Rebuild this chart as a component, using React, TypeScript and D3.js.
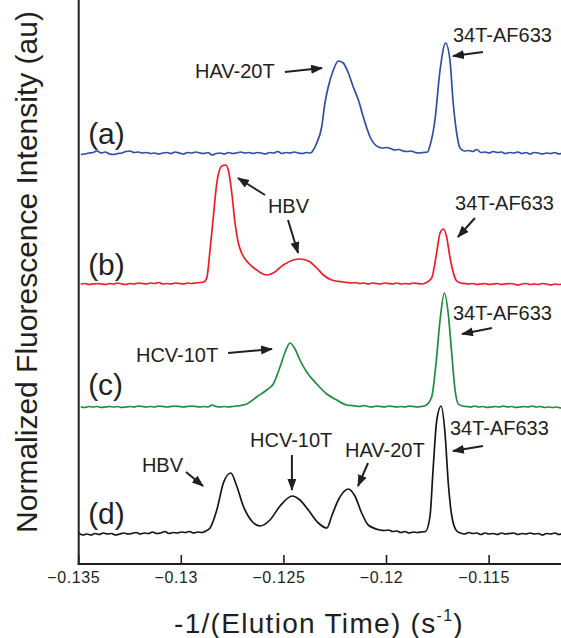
import React from "react";
import * as d3 from "d3";

// Elution traces: [-1/(elution time), normalized intensity above each trace's own baseline]
const traceA: [number, number][] = [
  [-0.1349, -0.015], [-0.1347, -0.01], [-0.1345, 0.0], [-0.1343, 0.005], [-0.1341, 0.02],
  [-0.1339, 0.0], [-0.1337, 0.01], [-0.1335, -0.01], [-0.1333, -0.015], [-0.1331, -0.005],
  [-0.1329, 0.0], [-0.1327, 0.015], [-0.1325, 0.02], [-0.1323, 0.005], [-0.1321, 0.01],
  [-0.1319, 0.0], [-0.1317, 0.005], [-0.1315, -0.005], [-0.1313, 0.0], [-0.1311, -0.01],
  [-0.1309, 0.0], [-0.1307, 0.005], [-0.1305, -0.005], [-0.1303, 0.01], [-0.1301, 0.0],
  [-0.1299, -0.01], [-0.1297, 0.005], [-0.1295, 0.0], [-0.1293, 0.01], [-0.1291, 0.0],
  [-0.1289, -0.005], [-0.1287, 0.005], [-0.1285, -0.02], [-0.1283, -0.005], [-0.1281, 0.0],
  [-0.1279, -0.01], [-0.1277, 0.005], [-0.1275, -0.005], [-0.1273, 0.0], [-0.1271, 0.01],
  [-0.1269, 0.0], [-0.1267, 0.005], [-0.1265, -0.005], [-0.1263, 0.005], [-0.1261, 0.0],
  [-0.1259, -0.01], [-0.1257, 0.005], [-0.1255, 0.0], [-0.1253, 0.015], [-0.1251, -0.005],
  [-0.1249, 0.005], [-0.1247, 0.0], [-0.1245, 0.01], [-0.1243, 0.0], [-0.1241, -0.005],
  [-0.1239, 0.005], [-0.1237, 0.0],
  [-0.1236, 0.02], [-0.1234, 0.1], [-0.12316, 0.26], [-0.123, 0.5], [-0.12284, 0.66],
  [-0.12259, 0.83], [-0.12235, 0.92], [-0.12211, 0.9], [-0.12186, 0.8], [-0.12162, 0.66],
  [-0.12137, 0.53], [-0.12113, 0.36], [-0.1208, 0.16], [-0.1204, 0.06],
  [-0.1202, 0.05], [-0.12, 0.055], [-0.1198, 0.045], [-0.1196, 0.03], [-0.1194, 0.035],
  [-0.1192, 0.02], [-0.119, 0.015], [-0.1188, 0.02], [-0.1186, 0.005], [-0.1184, 0.0],
  [-0.1182, 0.005], [-0.118, 0.01],
  [-0.1179, 0.06], [-0.11764, 0.33], [-0.11739, 0.83], [-0.11712, 1.1], [-0.11691, 0.93],
  [-0.11675, 0.5], [-0.11658, 0.2], [-0.11642, 0.05],
  [-0.1162, 0.02], [-0.116, 0.025], [-0.1158, 0.015], [-0.1156, 0.035], [-0.1154, 0.005],
  [-0.1152, 0.01], [-0.115, 0.0], [-0.1148, 0.015], [-0.1146, 0.005], [-0.1144, 0.01],
  [-0.1142, -0.005], [-0.114, 0.005], [-0.1138, 0.0], [-0.1136, 0.01], [-0.1134, -0.005],
  [-0.1132, 0.005], [-0.113, -0.01], [-0.1128, 0.005], [-0.1126, 0.0], [-0.1124, -0.01],
  [-0.1122, 0.0], [-0.112, -0.005], [-0.1118, 0.005], [-0.1116, -0.01], [-0.1114, 0.0],
  [-0.1112, -0.005],
];

const traceB: [number, number][] = [
  [-0.1349, 0.0], [-0.1347, 0.005], [-0.1345, -0.005], [-0.1343, 0.0], [-0.1341, 0.005],
  [-0.1339, 0.0], [-0.1337, -0.005], [-0.1335, 0.005], [-0.1333, 0.0], [-0.1331, 0.01],
  [-0.1329, 0.0], [-0.1327, -0.005], [-0.1325, 0.005], [-0.1323, 0.0], [-0.1321, 0.01],
  [-0.1319, 0.005], [-0.1317, 0.0], [-0.1315, 0.01], [-0.1313, 0.005], [-0.1311, 0.015],
  [-0.1309, 0.0], [-0.1307, 0.005], [-0.1305, 0.0], [-0.1303, 0.01], [-0.1301, 0.005],
  [-0.1299, 0.0], [-0.1297, 0.01], [-0.1295, 0.005], [-0.1293, 0.01], [-0.1291, 0.015],
  [-0.1289, 0.02],
  [-0.12876, 0.06], [-0.1286, 0.34], [-0.12844, 0.67], [-0.12827, 1.01], [-0.12803, 1.18],
  [-0.12784, 1.19], [-0.12771, 1.14], [-0.12754, 0.91], [-0.12738, 0.61], [-0.12722, 0.41],
  [-0.12706, 0.31], [-0.12673, 0.21], [-0.12633, 0.14], [-0.12584, 0.09], [-0.12552, 0.11],
  [-0.12503, 0.19], [-0.12454, 0.24], [-0.12422, 0.25], [-0.12381, 0.23], [-0.1234, 0.16],
  [-0.12308, 0.09], [-0.12267, 0.04], [-0.12211, 0.02],
  [-0.1219, 0.015], [-0.1217, 0.01], [-0.1215, 0.015], [-0.1213, 0.005], [-0.1211, 0.01],
  [-0.1209, 0.0], [-0.1207, 0.01], [-0.1205, 0.005], [-0.1203, 0.0], [-0.1201, 0.01],
  [-0.1199, 0.005], [-0.1197, 0.0], [-0.1195, 0.01], [-0.1193, 0.0], [-0.1191, 0.005],
  [-0.1189, 0.0], [-0.1187, 0.01], [-0.1185, 0.005], [-0.1183, 0.0], [-0.1181, 0.01],
  [-0.1178, 0.06], [-0.11759, 0.27], [-0.11739, 0.51], [-0.11723, 0.55], [-0.11707, 0.47],
  [-0.11691, 0.27], [-0.11674, 0.11], [-0.11658, 0.03],
  [-0.1164, 0.01], [-0.1162, 0.005], [-0.116, 0.0], [-0.1158, 0.005], [-0.1156, -0.005],
  [-0.1154, 0.0], [-0.1152, 0.005], [-0.115, -0.005], [-0.1148, 0.0], [-0.1146, 0.005],
  [-0.1144, -0.005], [-0.1142, 0.0], [-0.114, 0.005], [-0.1138, 0.0], [-0.1136, -0.01],
  [-0.1134, 0.0], [-0.1132, 0.005], [-0.113, -0.005], [-0.1128, 0.0], [-0.1126, -0.005],
  [-0.1124, 0.005], [-0.1122, 0.0], [-0.112, -0.01], [-0.1118, 0.0], [-0.1116, -0.005],
  [-0.1114, 0.0], [-0.1112, -0.005],
];

const traceC: [number, number][] = [
  [-0.1349, 0.0], [-0.1347, -0.005], [-0.1345, 0.005], [-0.1343, 0.0], [-0.1341, 0.005],
  [-0.1339, -0.005], [-0.1337, 0.0], [-0.1335, 0.005], [-0.1333, 0.0], [-0.1331, 0.005],
  [-0.1329, -0.005], [-0.1327, 0.0], [-0.1325, 0.005], [-0.1323, 0.0], [-0.1321, 0.01],
  [-0.1319, 0.005], [-0.1317, 0.0], [-0.1315, 0.005], [-0.1313, 0.0], [-0.1311, 0.01],
  [-0.1309, 0.005], [-0.1307, 0.0], [-0.1305, 0.005], [-0.1303, 0.01], [-0.1301, 0.005],
  [-0.1299, 0.0], [-0.1297, 0.005], [-0.1295, 0.01], [-0.1293, 0.005], [-0.1291, 0.0],
  [-0.1289, 0.005], [-0.1287, 0.0], [-0.1285, 0.02], [-0.1283, 0.005], [-0.1281, 0.0],
  [-0.1279, 0.005], [-0.1277, 0.0], [-0.1275, 0.005], [-0.1273, 0.01], [-0.1271, 0.015],
  [-0.12681, 0.03], [-0.12633, 0.1], [-0.12584, 0.17], [-0.12552, 0.23], [-0.12519, 0.4],
  [-0.12494, 0.55], [-0.1247, 0.64], [-0.12446, 0.58], [-0.12422, 0.47], [-0.12389, 0.35],
  [-0.1234, 0.23], [-0.12291, 0.13], [-0.12243, 0.07], [-0.12194, 0.02],
  [-0.1217, 0.015], [-0.1215, 0.01], [-0.1213, 0.005], [-0.1211, 0.015], [-0.1209, 0.005],
  [-0.1207, 0.0], [-0.1205, 0.01], [-0.1203, 0.005], [-0.1201, 0.0], [-0.1199, 0.01],
  [-0.1197, 0.005], [-0.1195, 0.0], [-0.1193, 0.005], [-0.1191, 0.0], [-0.1189, 0.01],
  [-0.1187, 0.005], [-0.1185, 0.0], [-0.1183, 0.005], [-0.1181, 0.015],
  [-0.1178, 0.1], [-0.11759, 0.43], [-0.11739, 0.87], [-0.11718, 1.14], [-0.11699, 0.93],
  [-0.11682, 0.53], [-0.11666, 0.17], [-0.1165, 0.03],
  [-0.1163, 0.01], [-0.1161, 0.005], [-0.1159, 0.0], [-0.1157, 0.01], [-0.1155, 0.0],
  [-0.1153, 0.005], [-0.1151, -0.005], [-0.1149, 0.0], [-0.1147, 0.005], [-0.1145, 0.0],
  [-0.1143, 0.01], [-0.1141, 0.0], [-0.1139, 0.005], [-0.1137, -0.005], [-0.1135, 0.0],
  [-0.1133, 0.005], [-0.1131, 0.0], [-0.1129, 0.01], [-0.1127, 0.0], [-0.1125, 0.005],
  [-0.1123, -0.005], [-0.1121, 0.0], [-0.1119, -0.005], [-0.1117, 0.0], [-0.1115, -0.01],
  [-0.1113, -0.005], [-0.1111, 0.0],
];

const traceD: [number, number][] = [
  [-0.135, 0.0], [-0.1348, -0.02], [-0.1346, -0.01], [-0.1344, -0.02], [-0.1342, -0.005],
  [-0.134, -0.015], [-0.1338, 0.0], [-0.1336, -0.01], [-0.1334, -0.005], [-0.1332, -0.02],
  [-0.133, -0.01], [-0.1328, 0.0], [-0.1326, -0.01], [-0.1324, -0.005], [-0.1322, 0.005],
  [-0.132, -0.01], [-0.1318, 0.0], [-0.1316, -0.005], [-0.1314, 0.01], [-0.1312, -0.005],
  [-0.131, 0.0], [-0.1308, 0.015], [-0.1306, -0.005], [-0.1304, 0.005], [-0.1302, 0.0],
  [-0.13, 0.01], [-0.1298, 0.005], [-0.1296, 0.015], [-0.1294, 0.0], [-0.1292, 0.01],
  [-0.129, 0.005], [-0.1288, 0.02],
  [-0.1286, 0.05], [-0.12827, 0.23], [-0.12795, 0.5], [-0.12759, 0.6], [-0.1273, 0.47],
  [-0.12698, 0.27], [-0.12657, 0.12], [-0.12616, 0.07], [-0.12568, 0.13], [-0.12519, 0.27],
  [-0.12459, 0.37], [-0.12422, 0.33], [-0.12381, 0.23], [-0.12332, 0.1], [-0.12291, 0.05],
  [-0.12267, 0.17], [-0.12235, 0.33], [-0.12186, 0.44], [-0.12154, 0.37], [-0.12121, 0.2],
  [-0.12089, 0.08], [-0.12032, 0.03],
  [-0.1201, 0.025], [-0.1199, 0.03], [-0.1197, 0.015], [-0.1195, 0.02], [-0.1193, 0.005],
  [-0.1191, 0.015], [-0.1189, 0.0], [-0.1187, 0.01], [-0.1185, 0.005], [-0.1183, 0.01],
  [-0.1181, 0.015],
  [-0.11788, 0.17], [-0.11772, 0.67], [-0.11755, 1.13], [-0.11734, 1.27], [-0.11715, 1.0],
  [-0.11699, 0.5], [-0.11682, 0.17], [-0.11658, 0.02],
  [-0.1164, 0.0], [-0.1162, -0.01], [-0.116, 0.005], [-0.1158, -0.005], [-0.1156, 0.0],
  [-0.1154, -0.015], [-0.1152, 0.0], [-0.115, -0.01], [-0.1148, -0.005], [-0.1146, -0.015],
  [-0.1144, 0.0], [-0.1142, -0.01], [-0.114, -0.005], [-0.1138, 0.0], [-0.1136, -0.015],
  [-0.1134, -0.005], [-0.1132, -0.01], [-0.113, 0.0], [-0.1128, -0.01], [-0.1126, -0.005],
  [-0.1124, -0.02], [-0.1122, -0.005], [-0.112, -0.01], [-0.1118, 0.0], [-0.1116, -0.015],
  [-0.1114, -0.005], [-0.1112, -0.01],
];

const traceNames = ["(a)", "(b)", "(c)", "(d)"];
const traceColors = ["#2f4fa5", "#ee1d25", "#1e8b3e", "#161616"];
// vertical stacking of the four runs, in intensity units
const traceOffsets = [3.8, 2.49, 1.26, 0];
const traceData = [traceA, traceB, traceC, traceD];

const xTicks = [-0.135, -0.13, -0.125, -0.12, -0.115];

// peak annotations in data coordinates: label anchor, arrow tail, arrow tip
const annotations: { text: string; at: [number, number]; from: [number, number]; to: [number, number] }[] = [
  { text: "HAV-20T", at: [-0.12933, 4.55], from: [-0.12495, 4.61], to: [-0.12314, 4.65] },
  { text: "34T-AF633", at: [-0.11676, 4.91], from: [-0.1153, 4.81], to: [-0.11676, 4.77] },
  { text: "HBV", at: [-0.12578, 3.2], from: [-0.12592, 3.38], to: [-0.12724, 3.55] },
  { text: "", at: [0, 0], from: [-0.1248, 3.13], to: [-0.12431, 2.8] },
  { text: "34T-AF633", at: [-0.11666, 3.23], from: [-0.11569, 3.15], to: [-0.11652, 2.96] },
  { text: "HCV-10T", at: [-0.13221, 1.71], from: [-0.12772, 1.8], to: [-0.12558, 1.84] },
  { text: "34T-AF633", at: [-0.11676, 2.13], from: [-0.11486, 2.05], to: [-0.11632, 1.99] },
  { text: "HBV", at: [-0.13192, 0.61], from: [-0.12977, 0.61], to: [-0.12894, 0.47] },
  { text: "HCV-10T", at: [-0.12665, 0.86], from: [-0.12461, 0.78], to: [-0.12461, 0.43] },
  { text: "HAV-20T", at: [-0.12202, 0.76], from: [-0.1209, 0.7], to: [-0.12139, 0.47] },
  { text: "34T-AF633", at: [-0.11691, 0.98], from: [-0.1153, 0.87], to: [-0.11676, 0.82] },
];
const traceLabelPos: [number, number][] = [
  [-0.13454, 3.89], [-0.13454, 2.58], [-0.13454, 1.38], [-0.13454, 0.09],
];

const W = 561;
const H = 638;
const FONT = "'Liberation Sans', Arial, Helvetica, sans-serif";
const INK = "#231f20";

export default function App() {
  const x = d3.scaleLinear().domain([-0.135, -0.111]).range([78.7, 571.2]);
  const y = d3.scaleLinear().domain([-0.31, 5.33]).range([564, 0]);
  const x0 = x(-0.135);
  const yAxis = y(-0.31);

  const lineFor = (offset: number) =>
    d3
      .line<[number, number]>()
      .x((d) => x(d[0]))
      .y((d) => y(d[1] + offset))
      .curve(d3.curveMonotoneX);

  const fmt = (v: number) => d3.format("")(v).replace("-", "\u2212");

  return (
    <svg
      width={W}
      height={H}
      style={{ position: "absolute", left: 0, top: 0, background: "#fff" }}
      fontFamily={FONT}
    >
      <defs>
        <marker
          id="arrowHead"
          markerUnits="userSpaceOnUse"
          markerWidth={12}
          markerHeight={10}
          refX={11}
          refY={4.5}
          orient="auto"
        >
          <path d="M0,0 L12,4.5 L0,9 Z" fill={INK} />
        </marker>
      </defs>

      {traceData.map((data, i) => (
        <path
          key={i}
          d={lineFor(traceOffsets[i])(data) || ""}
          fill="none"
          stroke={traceColors[i]}
          strokeWidth={1.7}
          strokeLinejoin="round"
        />
      ))}

      {/* axes */}
      <line x1={x0} x2={x0} y1={0} y2={yAxis + 1} stroke={INK} strokeWidth={2} />
      <line x1={x0 - 1} x2={W} y1={yAxis} y2={yAxis} stroke={INK} strokeWidth={2} />
      {xTicks.map((t) => (
        <g key={t}>
          <line x1={x(t)} x2={x(t)} y1={yAxis} y2={yAxis - 9} stroke={INK} strokeWidth={1.6} />
          <text
            x={x(t) - 5}
            y={yAxis + 19}
            textAnchor="middle"
            fontSize={16}
            letterSpacing={0.6}
            fill={INK}
          >
            {fmt(t)}
          </text>
        </g>
      ))}

      <text x={319} y={633} textAnchor="middle" fontSize={28} letterSpacing={1.3} fill={INK}>
        -1/(Elution Time) (s
        <tspan fontSize={16} dy={-12}>-1</tspan>
        <tspan dy={12}>)</tspan>
      </text>
      <text
        transform={`translate(37, 272) rotate(-90)`}
        textAnchor="middle"
        fontSize={30}
        fill={INK}
      >
        Normalized Fluorescence Intensity (au)
      </text>

      {traceNames.map((n, i) => (
        <text
          key={n}
          x={x(traceLabelPos[i][0])}
          y={y(traceLabelPos[i][1])}
          fontSize={30}
          fill={INK}
        >
          {n}
        </text>
      ))}

      {annotations.map((a, i) => (
        <g key={i}>
          {a.text && (
            <text x={x(a.at[0])} y={y(a.at[1])} fontSize={20} fill={INK}>
              {a.text}
            </text>
          )}
          <line
            x1={x(a.from[0])}
            y1={y(a.from[1])}
            x2={x(a.to[0])}
            y2={y(a.to[1])}
            stroke={INK}
            strokeWidth={2}
            markerEnd="url(#arrowHead)"
          />
        </g>
      ))}
    </svg>
  );
}
